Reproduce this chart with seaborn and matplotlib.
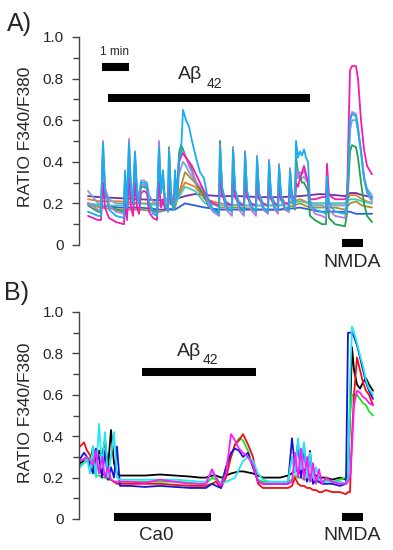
import matplotlib
matplotlib.use('Agg')
import matplotlib.pyplot as plt
from matplotlib.ticker import MultipleLocator, FuncFormatter
import numpy as np
import pandas as pd
import seaborn as sns

# ---- Panel A: recording frames (spiky cells share one time base) ----
a_t = [88, 98, 101, 103, 105, 109, 116,
       124, 125, 127, 129, 131, 133, 135, 137, 139,
       141, 144, 147, 149, 153, 157,
       159, 161, 163, 165, 168, 169, 171, 174, 175, 177, 179, 181,
       183, 186, 189, 192, 196, 200, 204, 208, 213,
       219, 220, 222, 226, 232, 233, 235, 239, 244, 245, 247, 251, 256, 257, 259, 263,
       268, 269, 271, 275, 278, 279, 281, 285, 289, 290, 292,
       295, 296, 298, 300, 302, 304, 306, 308, 310,
       315, 322, 326, 327, 329, 335, 345,
       347, 350, 352, 356, 358, 361, 364, 367, 372]

a_cyan = [0.16, 0.14, 0.14, 0.49, 0.26, 0.17, 0.14,
          0.13, 0.35, 0.18, 0.49, 0.26, 0.2, 0.45, 0.25, 0.2,
          0.3, 0.3, 0.29, 0.2, 0.15, 0.14,
          0.47, 0.25, 0.36, 0.2, 0.16, 0.45, 0.22, 0.17, 0.36, 0.22, 0.42, 0.44,
          0.65, 0.6, 0.57, 0.5, 0.42, 0.35, 0.32, 0.22, 0.17,
          0.15, 0.47, 0.28, 0.19, 0.16, 0.46, 0.27, 0.19, 0.16, 0.44, 0.26, 0.19, 0.16, 0.42, 0.25, 0.18,
          0.16, 0.4, 0.24, 0.18, 0.17, 0.38, 0.24, 0.18, 0.17, 0.36, 0.23,
          0.19, 0.5, 0.42, 0.45, 0.43, 0.46, 0.42, 0.4, 0.2,
          0.17, 0.16, 0.15, 0.33, 0.2, 0.16, 0.15,
          0.2, 0.6, 0.63, 0.62, 0.55, 0.45, 0.32, 0.26, 0.22]

a_violet = [0.2, 0.17, 0.17, 0.5, 0.28, 0.19, 0.16,
            0.15, 0.3, 0.19, 0.51, 0.27, 0.21, 0.44, 0.26, 0.21,
            0.29, 0.29, 0.28, 0.2, 0.16, 0.15,
            0.5, 0.26, 0.33, 0.2, 0.16, 0.46, 0.23, 0.17, 0.34, 0.22, 0.4, 0.42,
            0.45, 0.42, 0.38, 0.35, 0.3, 0.28, 0.26, 0.2, 0.16,
            0.14, 0.48, 0.27, 0.17, 0.14, 0.47, 0.26, 0.17, 0.14, 0.45, 0.25, 0.17, 0.14, 0.43, 0.24, 0.17,
            0.15, 0.41, 0.23, 0.17, 0.15, 0.39, 0.22, 0.17, 0.16, 0.37, 0.22,
            0.18, 0.38, 0.33, 0.35, 0.34, 0.36, 0.33, 0.32, 0.19,
            0.15, 0.14, 0.13, 0.28, 0.17, 0.14, 0.13,
            0.18, 0.6, 0.64, 0.63, 0.57, 0.45, 0.32, 0.25, 0.21]

a_green = [0.19, 0.16, 0.16, 0.45, 0.25, 0.19, 0.17,
           0.16, 0.3, 0.19, 0.45, 0.25, 0.2, 0.42, 0.25, 0.2,
           0.28, 0.28, 0.27, 0.2, 0.17, 0.16,
           0.45, 0.25, 0.32, 0.2, 0.17, 0.47, 0.23, 0.18, 0.33, 0.22, 0.44, 0.48,
           0.46, 0.42, 0.4, 0.36, 0.3, 0.27, 0.24, 0.19, 0.17,
           0.16, 0.5, 0.27, 0.18, 0.16, 0.47, 0.26, 0.18, 0.16, 0.45, 0.25, 0.18, 0.16, 0.42, 0.24, 0.18,
           0.16, 0.4, 0.23, 0.17, 0.16, 0.38, 0.22, 0.17, 0.16, 0.36, 0.22,
           0.17, 0.42, 0.35, 0.33, 0.3, 0.3, 0.28, 0.26, 0.14,
           0.12, 0.1, 0.1, 0.25, 0.13, 0.1, 0.09,
           0.15, 0.45, 0.48, 0.47, 0.42, 0.3, 0.2, 0.14, 0.11]

a_steel = [0.26, 0.2, 0.2, 0.42, 0.27, 0.22, 0.2,
           0.2, 0.36, 0.23, 0.4, 0.27, 0.23, 0.37, 0.27, 0.23,
           0.31, 0.31, 0.3, 0.24, 0.21, 0.2,
           0.38, 0.26, 0.3, 0.23, 0.21, 0.38, 0.25, 0.21, 0.3, 0.24, 0.34, 0.37,
           0.4, 0.38, 0.35, 0.33, 0.3, 0.28, 0.26, 0.22, 0.2,
           0.19, 0.4, 0.27, 0.21, 0.19, 0.39, 0.26, 0.21, 0.19, 0.37, 0.25, 0.2, 0.19, 0.36, 0.25, 0.2,
           0.19, 0.35, 0.24, 0.2, 0.19, 0.34, 0.24, 0.2, 0.19, 0.33, 0.23,
           0.2, 0.36, 0.32, 0.33, 0.32, 0.33, 0.31, 0.3, 0.21,
           0.19, 0.19, 0.18, 0.26, 0.2, 0.19, 0.19,
           0.22, 0.55, 0.6, 0.6, 0.55, 0.45, 0.33, 0.27, 0.24]

a_magenta = [0.14, 0.12, 0.12, 0.3, 0.18, 0.13, 0.11,
             0.1, 0.2, 0.12, 0.32, 0.18, 0.14, 0.3, 0.18, 0.15,
             0.25, 0.26, 0.25, 0.16, 0.13, 0.12,
             0.3, 0.18, 0.22, 0.17, 0.18, 0.3, 0.2, 0.18, 0.33, 0.24, 0.4, 0.43,
             0.44, 0.42, 0.4, 0.38, 0.34, 0.3, 0.26, 0.22, 0.2,
             0.19, 0.35, 0.24, 0.2, 0.19, 0.33, 0.23, 0.2, 0.19, 0.31, 0.23, 0.2, 0.19, 0.3, 0.22, 0.2,
             0.19, 0.29, 0.22, 0.2, 0.19, 0.28, 0.22, 0.2, 0.2, 0.3, 0.24,
             0.22, 0.3, 0.28, 0.32, 0.35, 0.38, 0.34, 0.3, 0.22,
             0.22, 0.23, 0.23, 0.39, 0.24, 0.22, 0.22,
             0.23, 0.84, 0.86, 0.86, 0.8, 0.6, 0.46, 0.38, 0.34]

# ---- Panel A: slower, flatter cells ----
a_tf = [88, 100, 120, 140, 160, 175, 185, 195, 205, 220, 240,
        260, 280, 300, 310, 320, 335, 345, 350, 356, 362, 372]
a_purple = [0.235, 0.23, 0.225, 0.22, 0.215, 0.22, 0.235, 0.245, 0.24, 0.235, 0.235,
            0.23, 0.23, 0.235, 0.24, 0.245, 0.24, 0.235, 0.25, 0.25, 0.24, 0.23]
a_orange = [0.22, 0.21, 0.21, 0.2, 0.2, 0.21, 0.3, 0.28, 0.22, 0.2, 0.19,
            0.19, 0.19, 0.22, 0.2, 0.2, 0.2, 0.2, 0.24, 0.24, 0.22, 0.2]
a_blue = [0.2, 0.19, 0.18, 0.18, 0.17, 0.17, 0.2, 0.19, 0.18, 0.17, 0.17,
          0.17, 0.17, 0.18, 0.17, 0.16, 0.16, 0.16, 0.16, 0.15, 0.15, 0.15]
a_olive = [0.2, 0.18, 0.17, 0.17, 0.16, 0.18, 0.35, 0.3, 0.22, 0.18, 0.18,
           0.17, 0.17, 0.2, 0.18, 0.18, 0.18, 0.17, 0.2, 0.21, 0.19, 0.18]
a_teal = [0.2, 0.19, 0.19, 0.2, 0.19, 0.2, 0.28, 0.26, 0.2, 0.19, 0.19,
          0.19, 0.19, 0.21, 0.2, 0.2, 0.2, 0.2, 0.22, 0.22, 0.21, 0.2]

# ---- Panel B ----
b_t = [80, 84, 87, 90, 93, 96, 99, 102, 105, 108, 111, 114, 117, 120,
       130, 145, 160, 175, 190, 200, 206,
       212, 216, 221, 226, 231, 235, 239, 243, 248, 253, 258, 263,
       270, 280, 288,
       292, 295, 298, 301, 304, 307, 310, 313, 316, 319, 322, 326,
       332, 340, 346,
       348, 350, 352, 354, 357, 360, 363, 366, 369, 373]

b_black = [0.27, 0.28, 0.3, 0.26, 0.35, 0.25, 0.33, 0.3, 0.38, 0.25, 0.43, 0.27, 0.22, 0.21,
           0.21, 0.21, 0.215, 0.21, 0.205, 0.2, 0.2,
           0.21, 0.21, 0.2, 0.21, 0.22, 0.225, 0.23, 0.23, 0.225, 0.22, 0.21, 0.2,
           0.2, 0.2, 0.21,
           0.22, 0.24, 0.23, 0.22, 0.24, 0.22, 0.21, 0.22, 0.21, 0.2, 0.2, 0.2,
           0.19, 0.2, 0.19,
           0.2, 0.5, 0.83, 0.72, 0.65, 0.63, 0.66, 0.68, 0.65, 0.62]
b_red = [0.35, 0.37, 0.33, 0.31, 0.28, 0.25, 0.24, 0.22, 0.21, 0.2, 0.19, 0.18, 0.17, 0.17,
         0.17, 0.17, 0.17, 0.165, 0.16, 0.16, 0.16,
         0.17, 0.18, 0.15, 0.2, 0.3, 0.36, 0.38, 0.41, 0.36, 0.3, 0.17, 0.15,
         0.15, 0.15, 0.15,
         0.16, 0.2, 0.17, 0.16, 0.16, 0.15, 0.15, 0.14, 0.14, 0.13, 0.13, 0.14,
         0.13, 0.13, 0.12,
         0.13, 0.13, 0.4, 0.6, 0.78, 0.72, 0.66, 0.62, 0.6, 0.55]
b_blue = [0.29, 0.32, 0.3, 0.26, 0.22, 0.34, 0.3, 0.2, 0.33, 0.19, 0.25, 0.2, 0.35, 0.16,
          0.16, 0.155, 0.16, 0.155, 0.15, 0.15, 0.15,
          0.17, 0.16, 0.15, 0.25, 0.32, 0.34, 0.33, 0.3, 0.32, 0.25, 0.18, 0.17,
          0.17, 0.17, 0.17,
          0.39, 0.25, 0.37, 0.2, 0.36, 0.18, 0.33, 0.17, 0.19, 0.18, 0.17, 0.17,
          0.17, 0.16, 0.17,
          0.9, 0.9, 0.9, 0.88, 0.84, 0.78, 0.72, 0.66, 0.62, 0.58]
b_cyan = [0.25, 0.27, 0.3, 0.22, 0.35, 0.2, 0.46, 0.25, 0.42, 0.2, 0.3, 0.42, 0.2, 0.19,
          0.19, 0.19, 0.19, 0.19, 0.185, 0.18, 0.18,
          0.23, 0.2, 0.17, 0.18, 0.19, 0.2, 0.24, 0.28, 0.3, 0.28, 0.22, 0.19,
          0.18, 0.18, 0.18,
          0.3, 0.22, 0.39, 0.24, 0.37, 0.2, 0.32, 0.2, 0.25, 0.19, 0.18, 0.18,
          0.18, 0.18, 0.17,
          0.2, 0.65, 0.93, 0.9, 0.85, 0.79, 0.74, 0.67, 0.63, 0.6]
b_green = [0.26, 0.27, 0.28, 0.3, 0.24, 0.21, 0.21, 0.2, 0.2, 0.19, 0.19, 0.18, 0.18, 0.18,
           0.18, 0.18, 0.18, 0.18, 0.175, 0.17, 0.17,
           0.2, 0.19, 0.17, 0.25, 0.3, 0.36, 0.39, 0.38, 0.33, 0.25, 0.19, 0.18,
           0.18, 0.18, 0.18,
           0.19, 0.21, 0.2, 0.2, 0.19, 0.19, 0.19, 0.18, 0.18, 0.18, 0.18, 0.19,
           0.18, 0.19, 0.2,
           0.25, 0.5, 0.6, 0.6, 0.6, 0.58, 0.56, 0.55, 0.52, 0.5]
b_magenta = [0.28, 0.29, 0.3, 0.28, 0.26, 0.33, 0.22, 0.3, 0.2, 0.25, 0.19, 0.18, 0.18, 0.18,
             0.18, 0.175, 0.19, 0.18, 0.17, 0.17, 0.17,
             0.24, 0.2, 0.16, 0.22, 0.41, 0.38, 0.34, 0.32, 0.3, 0.26, 0.18, 0.17,
             0.17, 0.17, 0.17,
             0.18, 0.32, 0.2, 0.34, 0.19, 0.3, 0.18, 0.27, 0.17, 0.24, 0.17, 0.2,
             0.18, 0.17, 0.17,
             0.18, 0.2, 0.35, 0.55, 0.62, 0.61, 0.59, 0.58, 0.56, 0.55]


def long_frame(items):
    rows = []
    for name, t, v in items:
        rows.append(pd.DataFrame({'t': t, 'ratio': v, 'cell': name}))
    return pd.concat(rows, ignore_index=True)


df_a = long_frame([('purple', a_tf, a_purple), ('orange', a_tf, a_orange),
                   ('olive', a_tf, a_olive), ('blue', a_tf, a_blue),
                   ('teal', a_tf, a_teal), ('steel', a_t, a_steel),
                   ('green', a_t, a_green), ('violet', a_t, a_violet),
                   ('magenta', a_t, a_magenta), ('cyan', a_t, a_cyan)])
pal_a = {'purple': '#7030A8', 'orange': '#F07C1E', 'olive': '#A8902C', 'blue': '#2A5FE0',
         'teal': '#3ACFC4', 'steel': '#7FA2D2', 'green': '#1FA34A', 'violet': '#B47BE4',
         'magenta': '#F21CB0', 'cyan': '#18AEEE'}

df_b = long_frame([('black', b_t, b_black), ('green', b_t, b_green), ('red', b_t, b_red),
                   ('blue', b_t, b_blue), ('cyan', b_t, b_cyan), ('magenta', b_t, b_magenta)])
pal_b = {'black': '#000000', 'green': '#22E022', 'red': '#F01010', 'blue': '#1414D4',
         'cyan': '#22E6F0', 'magenta': '#FF18FF'}

sns.set_style('ticks')
plt.rcParams['font.family'] = ['Liberation Sans', 'DejaVu Sans']

W, H = 393, 550
fig = plt.figure(figsize=(W / 100, H / 100), dpi=100)
ax_a = fig.add_axes([79 / W, 1 - 245 / H, 296 / W, 208 / H])
ax_b = fig.add_axes([79 / W, 1 - 519 / H, 296 / W, 207 / H])

for ax, df, pal in [(ax_a, df_a, pal_a), (ax_b, df_b, pal_b)]:
    sns.lineplot(data=df, x='t', y='ratio', hue='cell', palette=pal, hue_order=list(pal.keys()),
                 estimator=None, sort=False, legend=False, linewidth=1.3, ax=ax)
    ax.set_xlim(79, 375)
    ax.set_ylim(0, 1.0)
    ax.yaxis.set_major_locator(MultipleLocator(0.2))
    ax.yaxis.set_minor_locator(MultipleLocator(0.1))
    ax.yaxis.set_major_formatter(FuncFormatter(lambda v, p: '0' if abs(v) < 1e-9 else '%.1f' % v))
    ax.tick_params(axis='y', which='major', length=5, width=1, labelsize=11, pad=6, color='#444444')
    ax.tick_params(axis='y', which='minor', length=4, width=1, color='#444444')
    ax.set_xticks([])
    ax.set_xlabel('')
    ax.set_ylabel('')
    for s in ['top', 'right', 'bottom']:
        ax.spines[s].set_visible(False)
    ax.spines['left'].set_color('#444444')
    ax.spines['left'].set_linewidth(1)
    ax.patch.set_alpha(0)

bar = dict(color='black', linewidth=5.8, solid_capstyle='butt', clip_on=False)

# panel A annotations
ax_a.plot([102, 129], [0.856, 0.856], **bar)
ax_a.text(115, 0.93, '1 min', ha='center', va='center', fontsize=8.5)
ax_a.plot([108, 310], [0.707, 0.707], **bar)
ax_a.text(178, 0.82, 'Aβ', ha='left', va='center', fontsize=14)
ax_a.text(207, 0.775, '42', ha='left', va='center', fontsize=10)
ax_a.plot([342, 363], [0.01, 0.01], **bar)
ax_a.text(352.5, -0.085, 'NMDA', ha='center', va='center', fontsize=14)

# panel B annotations
ax_b.plot([142, 256], [0.71, 0.71], **bar)
ax_b.text(177, 0.807, 'Aβ', ha='left', va='center', fontsize=14)
ax_b.text(203, 0.77, '42', ha='left', va='center', fontsize=10)
ax_b.plot([114, 211], [0.01, 0.01], **bar)
ax_b.text(156, -0.08, 'Ca0', ha='center', va='center', fontsize=13.5)
ax_b.plot([342, 363], [0.01, 0.01], **bar)
ax_b.text(352.5, -0.08, 'NMDA', ha='center', va='center', fontsize=14)

fig.text(19 / W, 1 - 24 / H, 'A)', ha='center', va='center', fontsize=18)
fig.text(17 / W, 1 - 293 / H, 'B)', ha='center', va='center', fontsize=18)
fig.text(26 / W, 1 - 137 / H, 'RATIO F340/F380', rotation=90, ha='center', va='center', fontsize=12.5)
fig.text(26 / W, 1 - 413 / H, 'RATIO F340/F380', rotation=90, ha='center', va='center', fontsize=12.5)

fig.savefig('out.png', dpi=100)
